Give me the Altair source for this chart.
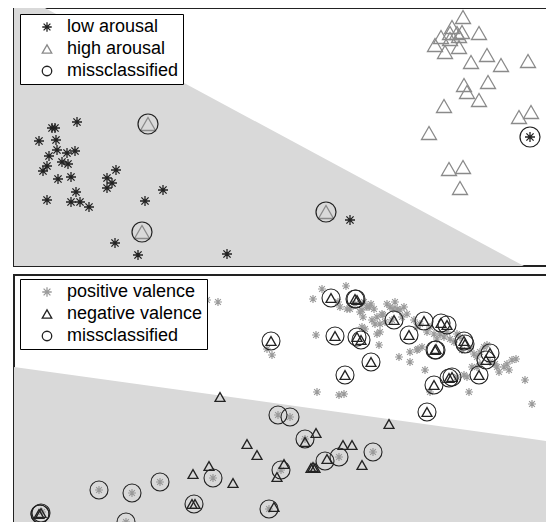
import altair as alt
import pandas as pd

# ---------------- top panel (arousal) ----------------
LOW_X = [63, 38, 41, 25, 42, 43, 35, 53, 61, 48, 54, 33, 29, 44, 57, 102, 93, 98, 93, 149,
         131, 62, 33, 57, 66, 75, 101, 124, 213, 336, 516]
LOW_Y = [144, 138, 138, 125, 126, 116, 110, 113, 115, 104, 102, 100, 95, 87, 89, 96, 88, 83, 78, 76,
         65, 74, 66, 64, 64, 59, 23, 11, 12, 46, 129]
HIGH_X = [449, 438, 448, 443, 436, 465, 427, 436, 445, 421, 445, 431, 473, 457, 487, 514, 474, 450,
          453, 465, 430, 517, 505, 415, 435, 449, 446, 134, 128, 312]
HIGH_Y = [249, 239, 234, 233, 233, 233, 229, 227, 230, 221, 219, 214, 211, 204, 201, 205, 184, 181,
          174, 166, 160, 154, 149, 133, 97, 99, 78, 142, 34, 54]
MIS_TOP_X = [134, 128, 312, 516]
MIS_TOP_Y = [142, 34, 54, 129]
TOP_BOUND_X = [0, 31, 510, 540]
TOP_BOUND_Y = [258, 258, 0, 0]

# ---------------- bottom panel (valence) ----------------
POS_X = [193, 204, 308, 299, 332, 326, 333, 350, 355, 360, 357, 346, 351, 348, 363, 368, 373, 376,
         383, 390, 393, 388, 366, 365, 302, 385, 396, 396, 403, 408, 411, 400, 403, 416, 420, 426,
         423, 430, 436, 443, 448, 456, 460, 463, 470, 473, 458, 463, 450, 453, 443, 416, 455, 483,
         490, 493, 498, 485, 511, 518, 303, 325, 330, 366, 363, 253, 258, 336, 348, 353, 349, 358,
         361, 369, 379, 386, 404, 324, 341, 378, 371, 381, 406, 413, 433, 440, 446, 466, 476, 481,
         495, 502, 466,
         85, 118, 146, 112, 199, 255, 264, 276, 267, 291, 325, 359, 28]
POS_Y = [233, 231, 244, 234, 247, 226, 224, 231, 226, 224, 229, 221, 204, 206, 216, 219, 229, 226,
         224, 226, 219, 216, 201, 188, 198, 176, 171, 181, 183, 186, 163, 213, 206, 206, 199, 199,
         194, 196, 194, 199, 183, 184, 179, 176, 186, 188, 166, 166, 158, 156, 156, 141, 141, 166,
         166, 169, 173, 161, 153, 129, 141, 138, 139, 209, 199, 184, 178, 224, 223, 226, 216, 213,
         209, 218, 224, 223, 184, 231, 229, 213, 211, 231, 209, 201, 201, 191, 196, 181, 171, 169,
         163, 174, 169,
         43, 40, 51, 11, 55, 24, 118, 116, 63, 94, 76, 81, 21]
NEG_X = [317, 341, 343, 380, 410, 427, 433, 321, 343, 347, 395, 450, 451, 421, 422, 357, 476, 472,
         331, 435, 438, 420, 465, 413, 257,
         206, 233, 243, 179, 195, 219, 270, 263, 302, 297, 299, 301, 329, 338, 348, 375, 291, 313,
         178, 181, 260, 25, 27]
NEG_Y = [235, 234, 233, 213, 212, 210, 208, 197, 196, 193, 198, 192, 189, 183, 184, 171, 180, 173,
         158, 155, 156, 148, 158, 121, 192,
         136, 89, 78, 59, 67, 50, 69, 56, 100, 65, 66, 65, 88, 88, 68, 109, 91, 74,
         29, 29, 26, 19, 20]
MIS_BOT_X = [317, 341, 342, 380, 410, 427, 433, 321, 343, 347, 395, 450, 451, 421, 422, 357, 476,
             472, 331, 435, 438, 420, 465, 413, 257,
             85, 118, 146, 112, 199, 255, 264, 276, 267, 291, 311, 325, 359, 180, 26, 26, 27]
MIS_BOT_Y = [235, 234, 234, 213, 212, 210, 208, 197, 196, 193, 198, 192, 189, 183, 183, 171, 180,
             173, 158, 155, 156, 148, 158, 121, 192,
             43, 40, 51, 11, 55, 24, 118, 116, 63, 94, 72, 76, 81, 29, 19, 19, 20]
BOT_BOUND_X = [0, 540]
BOT_BOUND_Y = [166, 91]

TOP_LABELS = ["low arousal", "high arousal", "missclassified"]
BOT_LABELS = ["positive valence", "negative valence", "missclassified"]

ASTERISK = "M-1,0L1,0M0,-1L0,1M-0.72,-0.72L0.72,0.72M-0.72,0.72L0.72,-0.72"
GRAY = "#d9d9d9"
W, H = 540, 258


def frame(groups):
    rows = []
    for label, xs, ys, sz, sw in groups:
        for x, y in zip(xs, ys):
            rows.append({"x": x, "y": y, "cls": label, "sz": sz, "sw": sw})
    return pd.DataFrame(rows)


def panel(points, bx, by, labels, colors, ly):
    xs = alt.Scale(domain=[0, W], nice=False, zero=False)
    ys = alt.Scale(domain=[0, H], nice=False, zero=False)
    area_df = pd.DataFrame({"x": bx, "y": by, "y0": [0] * len(bx)})
    area = alt.Chart(area_df).mark_area(color=GRAY, clip=True).encode(
        x=alt.X("x:Q", scale=xs, axis=None),
        y=alt.Y("y:Q", scale=ys, axis=None),
        y2="y0:Q",
    )
    leg = dict(title=None, orient="none", legendX=6, legendY=ly, strokeColor="#000",
               fillColor="#fff", padding=4, symbolSize=90, symbolStrokeWidth=1.3,
               labelFontSize=18, labelFont="Liberation Sans", labelColor="#000",
               symbolOffset=14, labelOffset=11, rowPadding=4, labelLimit=400)
    pts = alt.Chart(points).mark_point(filled=False, opacity=1, clip=True).encode(
        x=alt.X("x:Q", scale=xs, axis=None),
        y=alt.Y("y:Q", scale=ys, axis=None),
        shape=alt.Shape("cls:N", scale=alt.Scale(domain=labels, range=[ASTERISK, "triangle-up", "circle"]),
                        legend=alt.Legend(**leg)),
        stroke=alt.Stroke("cls:N", scale=alt.Scale(domain=labels, range=colors),
                          legend=alt.Legend(**leg)),
        size=alt.Size("sz:Q", scale=None),
        strokeWidth=alt.StrokeWidth("sw:Q", scale=None),
    )
    return alt.layer(area, pts).properties(width=W, height=H)


top_df = frame([
    (TOP_LABELS[0], LOW_X, LOW_Y, 100, 1.3),
    (TOP_LABELS[1], HIGH_X, HIGH_Y, 225, 1.3),
    (TOP_LABELS[2], MIS_TOP_X, MIS_TOP_Y, 400, 1.2),
])
bot_df = frame([
    (BOT_LABELS[0], POS_X, POS_Y, 64, 1.2),
    (BOT_LABELS[1], NEG_X, NEG_Y, 100, 1.3),
    (BOT_LABELS[2], MIS_BOT_X, MIS_BOT_Y, 324, 1.1),
])

top = panel(top_df, TOP_BOUND_X, TOP_BOUND_Y, TOP_LABELS, ["#222222", "#8a8a8a", "#222222"], 6)
bot = panel(bot_df, BOT_BOUND_X, BOT_BOUND_Y, BOT_LABELS, ["#9a9a9a", "#222222", "#222222"], 4)

chart = alt.vconcat(top, bot, spacing=7).resolve_scale(
    shape="independent", stroke="independent"
).resolve_legend(shape="independent", stroke="independent").properties(
    padding={"left": 5, "top": -1, "right": -9, "bottom": -12}
).configure_view(stroke="#222222", strokeWidth=2)

chart.save("out.html", embed_options={"renderer": "svg", "actions": False})
